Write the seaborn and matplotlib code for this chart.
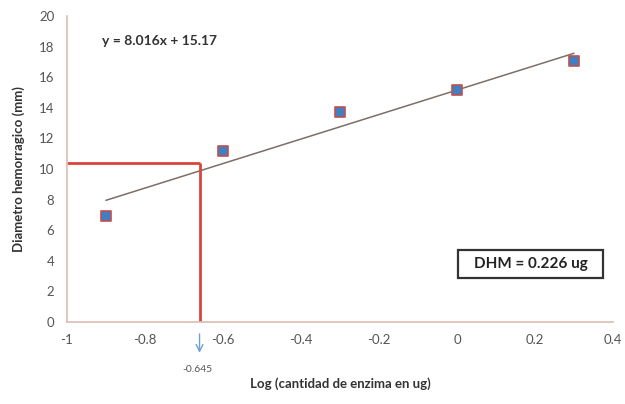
import numpy as np
import pandas as pd
import matplotlib
matplotlib.use("Agg")
import matplotlib.pyplot as plt
from matplotlib.patches import Rectangle
import seaborn as sns

# --- DATA ---
log_dose = [-0.9, -0.6, -0.3, 0.0, 0.3]
diameter = [6.93, 11.2, 13.7, 15.15, 17.06]
slope, intercept = 8.016, 15.17
dhm_log = -0.66        # where the red guide crosses the line
dhm_diam = 10.4
dhm_label = "-0.645"
eq_text = "y = 8.016x + 15.17"
box_text = "DHM = 0.226 ug"
x_ticks = [-1, -0.8, -0.6, -0.4, -0.2, 0, 0.2, 0.4]
y_ticks = list(range(0, 21, 2))

sns.set_theme(style="white")
plt.rcParams['font.family'] = ['Lato', 'DejaVu Sans']

df = pd.DataFrame({'x': log_dose, 'y': diameter})
trend = pd.DataFrame({'x': [min(log_dose), max(log_dose)]})
trend['y'] = slope * trend['x'] + intercept

fig = plt.figure(figsize=(6.25, 4.04), dpi=100)
ax = fig.add_axes([0.107, 0.203, 0.874, 0.757])

sns.lineplot(data=trend, x='x', y='y', color='#7d6e66', linewidth=1.1, ax=ax)
ax.plot([-1, dhm_log], [dhm_diam, dhm_diam], color='#d9453b', linewidth=2, solid_capstyle='butt')
ax.plot([dhm_log, dhm_log], [0, dhm_diam], color='#d9453b', linewidth=2, solid_capstyle='butt')
sns.scatterplot(data=df, x='x', y='y', marker='s', s=55, color='#3f7fc4',
                edgecolor='#c0504d', linewidth=1.2, ax=ax, zorder=5)

ax.set_xlim(-1, 0.4)
ax.set_ylim(0, 20)
ax.set_xticks(x_ticks)
ax.set_xticklabels([f"{t:g}" for t in x_ticks])
ax.set_yticks(y_ticks)
ax.tick_params(axis='both', direction='out', length=3, width=0.8, colors='#d8b4ab',
               labelcolor='#555555', labelsize=9.5, pad=6)
for side in ['top', 'right']:
    ax.spines[side].set_visible(False)
for side in ['left', 'bottom']:
    ax.spines[side].set_color('#dcbcb2')
    ax.spines[side].set_linewidth(1.2)

ax.set_xlabel("Log (cantidad de enzima en ug)", fontsize=9.5, fontweight='bold',
              color='#333333', labelpad=22)
ax.set_ylabel("Diametro hemorragico (mm)", fontsize=9.5, fontweight='bold',
              color='#333333', labelpad=10)

ax.text(-0.91, 18.4, eq_text, fontsize=10, fontweight='bold', color='#333333', va='center')

# result box
ax.add_patch(Rectangle((0.003, 2.9), 0.372, 1.8, facecolor='white',
                       edgecolor='#333333', linewidth=1.6, zorder=6))
ax.text(0.189, 3.8, box_text, fontsize=11, fontweight='bold', color='#222222',
        va='center', ha='center', zorder=7)

ax.annotate("", xy=(dhm_log, -2.2), xytext=(dhm_log, -0.6),
            arrowprops=dict(arrowstyle='->', color='#6fa0d0', lw=1), annotation_clip=False)
ax.text(dhm_log - 0.005, -3.1, dhm_label, fontsize=7.5, color='#555555', ha='center',
        va='center', clip_on=False)

plt.savefig("out.png", dpi=100)
plt.close()
